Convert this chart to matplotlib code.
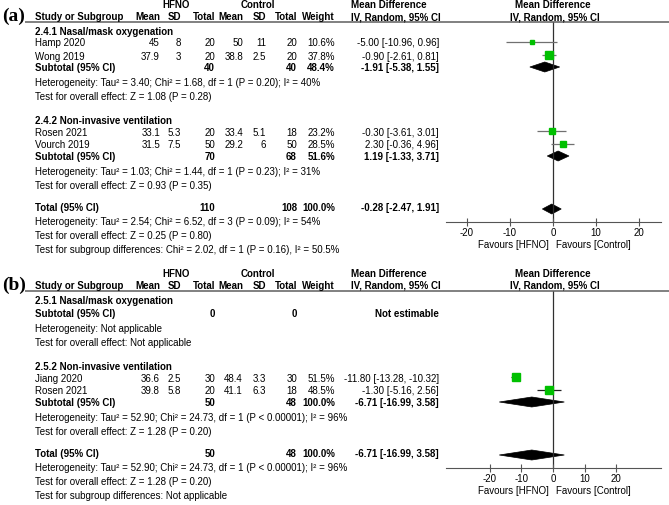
import matplotlib.pyplot as plt
from matplotlib.patches import Polygon

plt.rcParams['font.family'] = ['Liberation Sans', 'DejaVu Sans']
plt.rcParams['axes.unicode_minus'] = False

# ---------------- panel (a) ----------------
a_study = ["Hamp 2020", "Wong 2019", "Rosen 2021", "Vourch 2019"]
a_group_of = [0, 0, 1, 1]
a_hfno_mean = [45, 37.9, 33.1, 31.5]
a_hfno_sd = [8, 3, 5.3, 7.5]
a_hfno_n = [20, 20, 20, 50]
a_ctrl_mean = [50, 38.8, 33.4, 29.2]
a_ctrl_sd = [11, 2.5, 5.1, 6]
a_ctrl_n = [20, 20, 18, 50]
a_weight = [10.6, 37.8, 23.2, 28.5]
a_md = [-5.00, -0.90, -0.30, 2.30]
a_lo = [-10.96, -2.61, -3.61, -0.36]
a_hi = [0.96, 0.81, 3.01, 4.96]

a_groups = ["2.4.1 Nasal/mask oxygenation", "2.4.2 Non-invasive ventilation"]
a_sub_hfno_n = [40, 70]
a_sub_ctrl_n = [40, 68]
a_sub_weight = [48.4, 51.6]
a_sub_md = [-1.91, 1.19]
a_sub_lo = [-5.38, -1.33]
a_sub_hi = [1.55, 3.71]
a_sub_het = ["Heterogeneity: Tau² = 3.40; Chi² = 1.68, df = 1 (P = 0.20); I² = 40%",
             "Heterogeneity: Tau² = 1.03; Chi² = 1.44, df = 1 (P = 0.23); I² = 31%"]
a_sub_test = ["Test for overall effect: Z = 1.08 (P = 0.28)",
              "Test for overall effect: Z = 0.93 (P = 0.35)"]

a_tot_n = [110, 108]
a_tot_weight = 100.0
a_tot_ci = [-0.28, -2.47, 1.91]
a_tot_lines = ["Heterogeneity: Tau² = 2.54; Chi² = 6.52, df = 3 (P = 0.09); I² = 54%",
               "Test for overall effect: Z = 0.25 (P = 0.80)",
               "Test for subgroup differences: Chi² = 2.02, df = 1 (P = 0.16), I² = 50.5%"]

# ---------------- panel (b) ----------------
b_study = ["Jiang 2020", "Rosen 2021"]
b_group_of = [1, 1]
b_hfno_mean = [36.6, 39.8]
b_hfno_sd = [2.5, 5.8]
b_hfno_n = [30, 20]
b_ctrl_mean = [48.4, 41.1]
b_ctrl_sd = [3.3, 6.3]
b_ctrl_n = [30, 18]
b_weight = [51.5, 48.5]
b_md = [-11.80, -1.30]
b_lo = [-13.28, -5.16]
b_hi = [-10.32, 2.56]

b_groups = ["2.5.1 Nasal/mask oxygenation", "2.5.2 Non-invasive ventilation"]
b_sub_hfno_n = [0, 50]
b_sub_ctrl_n = [0, 48]
b_sub_weight = [None, 100.0]
b_sub_md = [None, -6.71]
b_sub_lo = [None, -16.99]
b_sub_hi = [None, 3.58]
b_sub_het = ["Heterogeneity: Not applicable",
             "Heterogeneity: Tau² = 52.90; Chi² = 24.73, df = 1 (P < 0.00001); I² = 96%"]
b_sub_test = ["Test for overall effect: Not applicable",
              "Test for overall effect: Z = 1.28 (P = 0.20)"]

b_tot_n = [50, 48]
b_tot_weight = 100.0
b_tot_ci = [-6.71, -16.99, 3.58]
b_tot_lines = ["Heterogeneity: Tau² = 52.90; Chi² = 24.73, df = 1 (P < 0.00001); I² = 96%",
               "Test for overall effect: Z = 1.28 (P = 0.20)",
               "Test for subgroup differences: Not applicable"]

ticks = [-20, -10, 0, 10, 20]

W, H = 669, 505
fig = plt.figure(figsize=(W / 100, H / 100), dpi=100)
tx = fig.add_axes([0, 0, 1, 1])
tx.set_xlim(0, W)
tx.set_ylim(H, 0)
tx.axis('off')

FS = 7
GREEN = '#00c000'
COLS = [160, 181, 215, 243, 266, 297]   # right edges of numeric columns
X_NAME, X_W, X_MD = 35, 335, 439


def txt(x, y, s, ha='left', bold=False):
    tx.text(x, y, s, ha=ha, va='center', fontsize=FS,
            fontweight='bold' if bold else 'normal')


def ci_str(m, lo, hi):
    return f"{m:.2f} [{lo:.2f}, {hi:.2f}]"


def diamond(ax, m, lo, hi, y):
    ax.add_patch(Polygon([(lo, y), (m, y - 5), (hi, y), (m, y + 5)],
                         closed=True, fc='black', ec='black', lw=0.5))


def panel(tag, top, y0, y1, xlim, d, ci_col):
    fx = fig.add_axes([445.5 / W, 1 - y1 / H, 215 / W, (y1 - y0) / H])
    fx.set_xlim(*xlim)
    fx.set_ylim(y1, y0)
    fx.patch.set_alpha(0)
    for s in ['left', 'right', 'top']:
        fx.spines[s].set_visible(False)
    fx.set_yticks([])

    # headers
    tx.text(2, top + 11, tag, ha='left', va='center', fontsize=14,
            fontweight='bold', family='Liberation Serif')
    h2 = top + 12
    txt(176, top, 'HFNO', 'center', True)
    txt(258, top, 'Control', 'center', True)
    txt(389, top, 'Mean Difference', 'center', True)
    txt(553, top, 'Mean Difference', 'center', True)
    txt(X_NAME, h2, 'Study or Subgroup', bold=True)
    for x, s in zip(COLS, ['Mean', 'SD', 'Total', 'Mean', 'SD', 'Total']):
        txt(x, h2, s, 'right', True)
    txt(X_W, h2, 'Weight', 'right', True)
    txt(396, h2, 'IV, Random, 95% CI', 'center', True)
    txt(555, h2, 'IV, Random, 95% CI', 'center', True)
    ul = top + 17
    tx.hlines(ul, 25, W, color='#808080', lw=1.4)

    y = top + 27
    ng = len(d['groups'])
    for gi, title in enumerate(d['groups']):
        txt(X_NAME, y, title, bold=True)
        idx = [i for i, g in enumerate(d['group_of']) if g == gi]
        y += 11.5 if idx else 13
        for k, i in enumerate(idx):
            txt(X_NAME, y, d['study'][i])
            vals = [d['hm'][i], d['hs'][i], d['hn'][i], d['cm'][i], d['cs'][i], d['cn'][i]]
            for x, v in zip(COLS, vals):
                txt(x, y, f"{v:g}", 'right')
            txt(X_W, y, f"{d['w'][i]:.1f}%", 'right')
            txt(X_MD, y, ci_str(d['md'][i], d['lo'][i], d['hi'][i]), 'right')
            fx.hlines(y - 1.5, d['lo'][i], d['hi'][i], color=ci_col, lw=0.9, zorder=2)
            side = 1.15 * d['w'][i] ** 0.5
            fx.plot(d['md'][i], y - 1.5, 's', ms=side * 0.72, color=GREEN,
                    mec=GREEN, zorder=3)
            y += 13 if k < len(idx) - 1 else 11.5
        txt(X_NAME, y, 'Subtotal (95% CI)', bold=True)
        txt(COLS[2], y, str(d['sub_hn'][gi]), 'right', True)
        txt(COLS[5], y, str(d['sub_cn'][gi]), 'right', True)
        if d['sub_md'][gi] is None:
            txt(X_MD, y, 'Not estimable', 'right', True)
        else:
            txt(X_W, y, f"{d['sub_w'][gi]:.1f}%", 'right', True)
            txt(X_MD, y, ci_str(d['sub_md'][gi], d['sub_lo'][gi], d['sub_hi'][gi]), 'right', True)
            diamond(fx, d['sub_md'][gi], d['sub_lo'][gi], d['sub_hi'][gi], y - 1)
        y += 15
        txt(X_NAME, y, d['sub_het'][gi])
        y += 14
        txt(X_NAME, y, d['sub_test'][gi])
        y += 24 if gi < ng - 1 else 22

    txt(X_NAME, y, 'Total (95% CI)', bold=True)
    txt(COLS[2], y, str(d['tot_n'][0]), 'right', True)
    txt(COLS[5], y, str(d['tot_n'][1]), 'right', True)
    txt(X_W, y, f"{d['tot_w']:.1f}%", 'right', True)
    m, lo, hi = d['tot_ci']
    txt(X_MD, y, ci_str(m, lo, hi), 'right', True)
    diamond(fx, m, lo, hi, y + 1)
    axis_y = y + 14
    for line in d['tot_lines']:
        y += 14
        txt(X_NAME, y, line)

    # forest axis
    fx.vlines(0, ul, axis_y, color='#303030', lw=0.9, zorder=1)
    fx.spines['bottom'].set_position(('data', axis_y))
    fx.spines['bottom'].set_color('#555555')
    fx.set_xticks(ticks)
    fx.set_xticklabels([str(t) for t in ticks])
    fx.tick_params(axis='x', direction='inout', length=6, color='#555555',
                   labelsize=FS, pad=1.5)
    txt(549, axis_y + 23, 'Favours [HFNO]', 'right')
    txt(556, axis_y + 23, 'Favours [Control]', 'left')


data_a = dict(study=a_study, group_of=a_group_of, hm=a_hfno_mean, hs=a_hfno_sd,
              hn=a_hfno_n, cm=a_ctrl_mean, cs=a_ctrl_sd, cn=a_ctrl_n, w=a_weight,
              md=a_md, lo=a_lo, hi=a_hi, groups=a_groups, sub_hn=a_sub_hfno_n,
              sub_cn=a_sub_ctrl_n, sub_w=a_sub_weight, sub_md=a_sub_md,
              sub_lo=a_sub_lo, sub_hi=a_sub_hi, sub_het=a_sub_het,
              sub_test=a_sub_test, tot_n=a_tot_n, tot_w=a_tot_weight,
              tot_ci=a_tot_ci, tot_lines=a_tot_lines)
data_b = dict(study=b_study, group_of=b_group_of, hm=b_hfno_mean, hs=b_hfno_sd,
              hn=b_hfno_n, cm=b_ctrl_mean, cs=b_ctrl_sd, cn=b_ctrl_n, w=b_weight,
              md=b_md, lo=b_lo, hi=b_hi, groups=b_groups, sub_hn=b_sub_hfno_n,
              sub_cn=b_sub_ctrl_n, sub_w=b_sub_weight, sub_md=b_sub_md,
              sub_lo=b_sub_lo, sub_hi=b_sub_hi, sub_het=b_sub_het,
              sub_test=b_sub_test, tot_n=b_tot_n, tot_w=b_tot_weight,
              tot_ci=b_tot_ci, tot_lines=b_tot_lines)

panel('(a)', 5, 0, 260, (-25, 25), data_a, '#707070')
panel('(b)', 274, 260, 505, (-34, 34), data_b, '#202020')

fig.savefig('out.png', dpi=100)
